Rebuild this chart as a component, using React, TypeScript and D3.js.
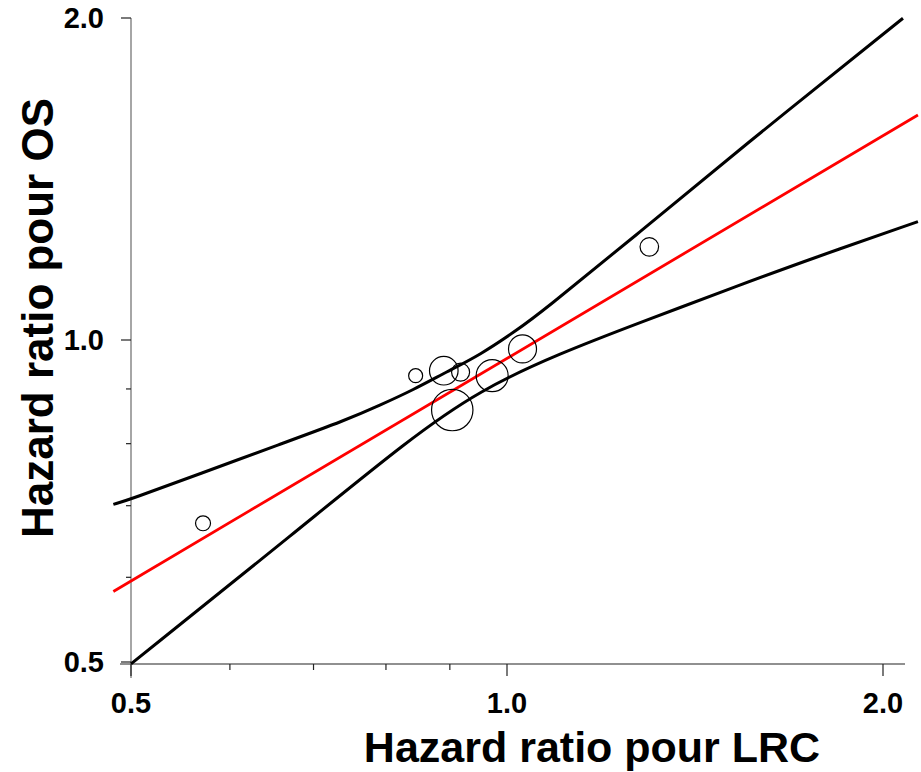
import React from 'react';
import * as d3 from 'd3';

const svgWidth = 921;
const svgHeight = 772;

// axis ticks
const majorTicks = [0.5, 1, 2];
const majorLabels = ['0.5', '1.0', '2.0'];
const minorTicks = [0.6, 0.7, 0.8, 0.9];

// studies (HR LRC, HR OS, weight)
const studyX = [0.571, 0.845, 0.89, 0.918, 0.904, 0.973, 1.029, 1.3];
const studyY = [0.674, 0.926, 0.936, 0.933, 0.86, 0.926, 0.981, 1.222];
const studyWeight = [56, 49, 204, 81, 428, 256, 196, 86];

// regression line
const regX = [0.484, 2.133];
const regY = [0.582, 1.623];

// confidence band
const upperX = [0.484, 0.5, 0.568, 0.658, 0.744, 0.791, 0.841, 0.895, 0.951, 1.019, 1.063, 1.278, 1.527, 2.075];
const upperY = [0.702, 0.71, 0.75, 0.799, 0.842, 0.869, 0.898, 0.934, 0.968, 1.022, 1.059, 1.262, 1.5, 1.999];
const lowerX = [0.5, 0.683, 0.833, 0.951, 1.103, 1.278, 1.537, 1.748, 2.133];
const lowerY = [0.498, 0.667, 0.806, 0.898, 0.972, 1.038, 1.126, 1.19, 1.29];

const font = '"Liberation Sans", Arial, sans-serif';

const x = d3.scaleLog().domain([0.5, 2]).range([131, 883]);
const y = d3.scaleLog().domain([0.5, 2]).range([662, 18]);
const r = d3.scaleSqrt().domain([0, 428]).range([0, 20.7]);

const curve = d3
  .line<[number, number]>()
  .x((d) => x(d[0]))
  .y((d) => y(d[1]))
  .curve(d3.curveBasis);

const zip = (a: number[], b: number[]) => a.map((v, i) => [v, b[i]] as [number, number]);

export default function App() {
  const axisY = 664;
  const axisX = 131;
  return (
    <svg
      width={svgWidth}
      height={svgHeight}
      style={{ position: 'absolute', left: 0, top: 0, background: '#fff' }}
    >
      {/* axes */}
      <line x1={120} x2={905} y1={axisY} y2={axisY} stroke="#222" strokeWidth={1.2} />
      <line x1={axisX} x2={axisX} y1={y(2)} y2={678} stroke="#888" strokeWidth={1.5} />

      {majorTicks.map((t, i) => (
        <g key={'mx' + t}>
          <line x1={x(t)} x2={x(t)} y1={axisY} y2={axisY + 12} stroke="#222" strokeWidth={1.2} />
          <text
            x={x(t)}
            y={713}
            textAnchor="middle"
            fontFamily={font}
            fontWeight="bold"
            fontSize={29}
          >
            {majorLabels[i]}
          </text>
          <line x1={axisX - 10} x2={axisX} y1={y(t)} y2={y(t)} stroke="#222" strokeWidth={1.2} />
          <text
            x={104}
            y={y(t) + 10}
            textAnchor="end"
            fontFamily={font}
            fontWeight="bold"
            fontSize={29}
          >
            {majorLabels[i]}
          </text>
        </g>
      ))}
      {minorTicks.map((t) => (
        <g key={'mn' + t}>
          <line x1={x(t)} x2={x(t)} y1={axisY} y2={axisY + 6} stroke="#222" strokeWidth={1.2} />
          <line x1={axisX - 5} x2={axisX} y1={y(t)} y2={y(t)} stroke="#222" strokeWidth={1.2} />
        </g>
      ))}

      {/* band and fit */}
      <path d={curve(zip(upperX, upperY)) || ''} fill="none" stroke="#000" strokeWidth={3} />
      <path d={curve(zip(lowerX, lowerY)) || ''} fill="none" stroke="#000" strokeWidth={3} />
      <path d={curve(zip(regX, regY)) || ''} fill="none" stroke="#ff0000" strokeWidth={2.8} />

      {studyX.map((sx, i) => (
        <circle
          key={i}
          cx={x(sx)}
          cy={y(studyY[i])}
          r={r(studyWeight[i])}
          fill="none"
          stroke="#000"
          strokeWidth={1.2}
        />
      ))}

      {/* titles */}
      <text
        x={592}
        y={762}
        textAnchor="middle"
        fontFamily={font}
        fontWeight="bold"
        fontSize={43}
      >
        Hazard ratio pour LRC
      </text>
      <text
        transform="translate(53, 318) rotate(-90)"
        textAnchor="middle"
        fontFamily={font}
        fontWeight="bold"
        fontSize={44}
      >
        Hazard ratio pour OS
      </text>
    </svg>
  );
}
